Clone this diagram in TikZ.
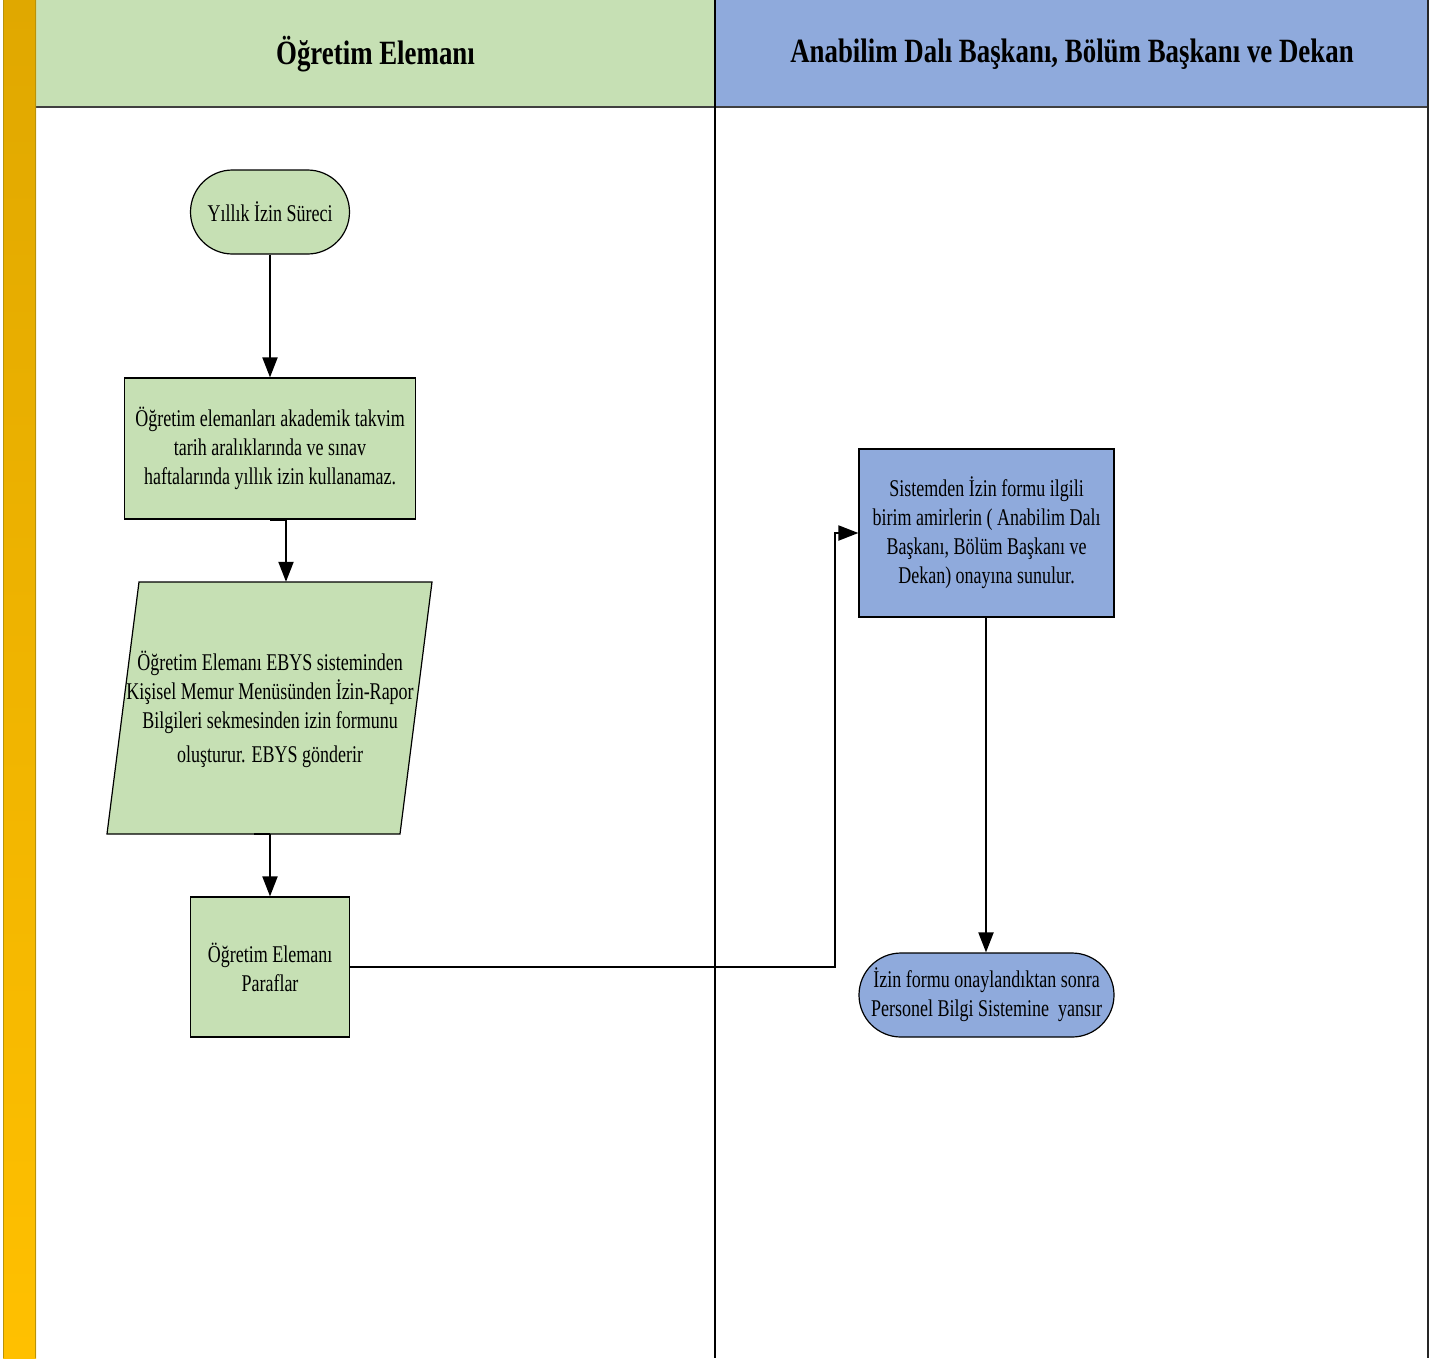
\documentclass[tikz,border=0pt]{standalone}
\usepackage{fontspec}
\setmainfont{Liberation Serif}[FakeStretch=0.75]
\newfontfamily\headfont{Liberation Serif}[FakeStretch=0.79]
\usetikzlibrary{arrows.meta,calc}
\definecolor{lanegreen}{HTML}{C6E0B4}
\definecolor{laneblue}{HTML}{8FAADC}
\definecolor{goldtop}{HTML}{E0A800}
\definecolor{goldbot}{HTML}{FFC000}
\definecolor{goldedge}{HTML}{B8920A}
\tikzset{
  body/.style={font=\fontsize{24}{29}\selectfont, align=center, inner sep=0pt},
  procbox/.style={body, draw=black, line width=1.2pt, rectangle},
  termbox/.style={body, draw=black, line width=1.2pt, rectangle, rounded corners=42pt},
  lanetitle/.style={font=\headfont\bfseries\fontsize{34}{38}\selectfont, inner sep=0pt},
  arr/.style={line width=2pt, -{Triangle[length=20pt,width=15pt]}},
  stub/.style={line width=2pt},
}
\begin{document}
\begin{tikzpicture}[x=1pt,y=-1pt]
\useasboundingbox (0,0) rectangle (1440,1358);
\fill[white] (0,0) rectangle (1440,1358);

% swimlane headers
\fill[lanegreen] (36,0) rectangle (715,107);
\fill[laneblue] (715,0) rectangle (1428,107);
\draw[line width=1.2pt, black!75] (36,107) -- (1428,107);
\draw[line width=1.2pt] (715,0) -- (715,1358);
\draw[line width=1.4pt, black!85] (1428,0) -- (1428,1358);

% gold side bar
\shade[top color=goldtop, bottom color=goldbot] (3,0) rectangle (36,1358);
\draw[goldedge, line width=1.2pt] (3.6,0) -- (3.6,1358);
\draw[goldedge, line width=1.4pt] (35.3,0) -- (35.3,1358);

\node[lanetitle] (t1) at (375.5,54) {Öğretim Elemanı};
\node[lanetitle] (t2) at (1072,54) {Anabilim Dalı Başkanı, Bölüm Başkanı ve Dekan};

% left lane
\node[termbox, fill=lanegreen, minimum width=159pt, minimum height=84pt] (start) at (270,212) {Yıllık İzin Süreci};

\node[procbox, fill=lanegreen, minimum width=291pt, minimum height=141pt] (b1) at (270,448.5)
  {Öğretim elemanları akademik takvim\\tarih aralıklarında ve sınav\\haftalarında yıllık izin kullanamaz.};

% input/output parallelogram
\fill[lanegreen] (139,582) -- (432,582) -- (400,834) -- (107,834) -- cycle;
\draw[line width=1.2pt, line join=miter] (139,582) -- (432,582) -- (400,834) -- (107,834) -- cycle;
\node[rectangle, minimum width=293pt, minimum height=252pt, inner sep=0pt] (para) at (270,708) {};
\node[body] (paratext) at (270,709)
  {Öğretim Elemanı EBYS sisteminden\\Kişisel Memur Menüsünden İzin-Rapor\\Bilgileri sekmesinden izin formunu\\[5pt]oluşturur. EBYS gönderir};

\node[procbox, fill=lanegreen, minimum width=159pt, minimum height=140pt] (b2) at (270,967)
  {Öğretim Elemanı\\Paraflar};

% right lane
\node[procbox, fill=laneblue, minimum width=255pt, minimum height=168pt] (b3) at (986.5,533)
  {Sistemden İzin formu ilgili\\birim amirlerin ( Anabilim Dalı\\Başkanı, Bölüm Başkanı ve\\Dekan) onayına sunulur.};

\node[termbox, fill=laneblue, minimum width=255pt, minimum height=84pt] (end) at (986.5,995)
  {İzin formu onaylandıktan sonra\\Personel Bilgi Sistemine \ yansır};

% connectors
\draw[arr] (start.south) -- (b1.north);
\draw[stub] (b1.south) -- ([xshift=16]b1.south);
\draw[arr] ([xshift=16]b1.south) -- ([xshift=16]b1.south |- para.north);
\draw[stub] ([xshift=-16]para.south) -- (para.south);
\draw[arr] (para.south) -- (b2.north);
\draw[arr] (b2.east) -- (835,967) -- (835,533) -- (b3.west);
\draw[arr] ([xshift=-0.5]b3.south) -- ([xshift=-0.5]end.north);
\end{tikzpicture}
\end{document}
